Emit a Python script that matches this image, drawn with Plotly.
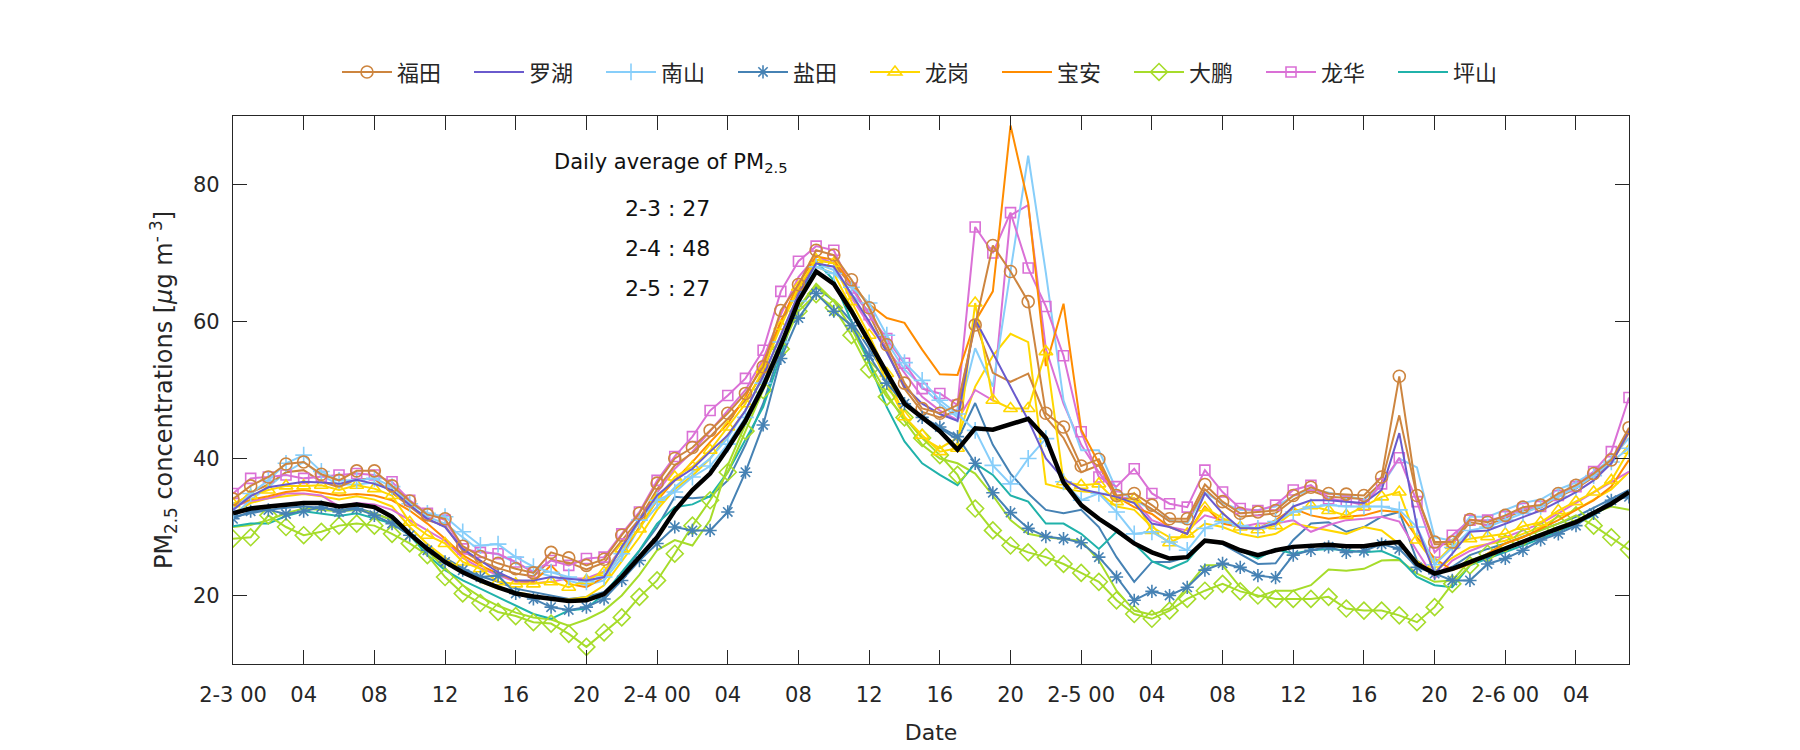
import plotly.graph_objects as go

hours = list(range(80))
tick_vals = list(range(0, 80, 4))
tick_text = ['2-3 00', '04', '08', '12', '16', '20',
             '2-4 00', '04', '08', '12', '16', '20',
             '2-5 00', '04', '08', '12', '16', '20',
             '2-6 00', '04']

futian = [34.1, 36.0, 37.3, 39.2, 39.5, 37.7, 36.8, 38.2, 38.2, 36.0,
          33.8, 31.8, 31.2, 27.2, 25.7, 24.7, 23.9, 23.3, 26.3, 25.5,
          24.4, 25.3, 28.8, 32.0, 36.4, 40.0, 41.6, 44.1, 46.6, 49.5,
          53.4, 61.6, 65.4, 70.4, 69.7, 66.1, 62.0, 56.6, 51.0, 47.3,
          46.6, 47.8, 59.5, 71.1, 67.3, 62.9, 46.6, 44.6, 38.9, 39.9,
          34.6, 34.9, 33.2, 31.2, 31.2, 36.2, 33.7, 32.0, 32.2, 32.4,
          34.6, 35.8, 34.9, 34.8, 34.6, 37.3, 52.0, 34.6, 27.8, 27.8,
          31.1, 30.7, 31.7, 32.9, 33.2, 34.9, 36.1, 37.8, 39.8, 44.5]

luohu = [32.5, 34.5, 35.8, 36.2, 36.6, 36.5, 36.3, 36.9, 36.3, 35.4,
         33.2, 31.2, 30.0, 26.8, 25.1, 23.4, 22.2, 22.2, 22.7, 22.4,
         22.2, 22.7, 27.1, 31.0, 34.6, 36.8, 38.5, 41.0, 43.4, 47.0,
         52.0, 58.0, 64.0, 68.5, 68.0, 64.0, 60.0, 55.5, 50.5, 48.0,
         46.5, 45.5, 60.3, 55.4, 50.5, 45.6, 40.0, 37.0, 35.5, 35.0,
         34.4, 33.5, 30.5, 30.0, 29.0, 34.9, 32.0, 29.8, 29.8, 30.5,
         33.0, 33.9, 33.9, 33.7, 33.5, 35.4, 43.7, 30.0, 23.2, 26.1,
         29.3, 29.5, 30.5, 31.5, 32.4, 33.7, 35.1, 36.8, 39.3, 44.1]

nanshan = [32.4, 34.9, 36.8, 39.3, 40.5, 38.1, 36.8, 36.8, 37.1, 35.9,
           33.4, 32.0, 31.5, 29.3, 27.3, 27.5, 25.6, 24.2, 23.4, 22.7,
           22.0, 22.7, 26.1, 31.0, 33.9, 35.1, 37.3, 38.9, 42.1, 46.0,
           51.0, 57.0, 63.0, 68.0, 67.0, 65.0, 62.7, 58.0, 54.0, 51.4,
           48.5, 46.5, 44.1, 39.0, 36.3, 40.0, 42.9, 36.6, 33.9, 34.9,
           32.2, 29.0, 29.3, 27.8, 26.6, 29.8, 30.8, 30.2, 29.8, 30.8,
           32.2, 32.9, 33.2, 33.0, 33.0, 33.0, 32.5, 30.0, 24.5, 27.0,
           29.5, 30.0, 31.0, 32.0, 33.0, 34.5, 35.8, 37.5, 39.5, 41.5]

yantian = [31.2, 32.3, 32.5, 31.9, 32.3, 32.9, 32.2, 32.7, 31.7, 30.5,
           28.8, 26.6, 24.9, 23.7, 22.7, 22.9, 20.3, 19.5, 18.3, 17.9,
           18.3, 19.5, 22.2, 25.1, 27.6, 30.0, 29.5, 29.5, 32.2, 38.0,
           44.9, 54.6, 60.5, 64.1, 61.5, 59.4, 55.0, 51.0, 48.0, 46.0,
           44.6, 43.2, 39.3, 35.0, 32.1, 29.8, 28.6, 28.3, 27.7, 25.6,
           22.7, 19.3, 20.6, 20.0, 21.2, 23.7, 24.7, 24.1, 22.9, 22.6,
           25.9, 26.6, 27.1, 26.3, 26.5, 27.5, 26.8, 24.1, 23.2, 22.2,
           22.2, 24.6, 25.4, 26.6, 28.1, 29.0, 30.2, 32.0, 33.9, 34.4]

longgang = [33.4, 34.6, 35.4, 36.0, 36.0, 36.1, 35.4, 36.1, 35.6, 34.6,
            30.7, 28.8, 27.6, 24.9, 23.9, 22.0, 21.7, 21.7, 22.0, 21.2,
            22.2, 23.4, 26.8, 29.7, 34.1, 37.3, 38.8, 41.2, 44.6, 48.0,
            53.0, 59.3, 65.0, 69.0, 68.5, 62.9, 58.0, 52.4, 46.1, 43.4,
            41.0, 41.5, 62.7, 48.5, 47.3, 47.3, 55.6, 36.6, 36.1, 36.3,
            33.7, 34.1, 29.5, 27.7, 29.0, 32.8, 31.3, 30.0, 29.6, 30.2,
            32.2, 33.1, 32.4, 31.7, 33.0, 34.4, 35.1, 28.1, 24.6, 27.3,
            28.3, 28.6, 29.0, 30.1, 30.7, 32.4, 33.7, 35.1, 36.8, 41.2]

baoan = [33.0, 34.0, 34.5, 35.1, 35.4, 35.0, 34.6, 34.8, 34.6, 33.9,
         32.4, 30.5, 28.3, 25.9, 24.4, 23.2, 22.2, 22.0, 24.4, 21.7,
         21.2, 22.7, 26.1, 30.0, 33.9, 36.8, 39.5, 42.4, 45.1, 49.0,
         54.0, 60.0, 65.5, 69.5, 69.0, 65.5, 62.5, 60.5, 59.8, 55.9,
         52.3, 52.2, 60.0, 64.4, 88.6, 77.3, 53.5, 62.6, 44.2, 39.3,
         34.4, 32.9, 31.9, 30.0, 29.0, 33.0, 30.5, 30.0, 29.8, 31.0,
         32.7, 31.7, 31.2, 31.5, 31.7, 32.4, 32.2, 28.5, 25.4, 23.7,
         24.6, 26.1, 27.6, 28.5, 29.8, 31.0, 32.5, 33.9, 35.9, 39.8]

dapeng = [28.3, 28.5, 31.7, 30.0, 28.8, 29.3, 30.2, 30.5, 30.2, 29.0,
          27.6, 25.9, 22.7, 20.3, 18.9, 17.6, 17.0, 16.1, 15.9, 14.4,
          12.5, 14.6, 16.8, 19.8, 22.2, 26.1, 30.2, 33.9, 38.0, 44.0,
          50.0, 56.0, 61.5, 64.0, 62.0, 58.0, 53.0, 49.0, 46.0, 43.0,
          40.5, 37.6, 32.7, 29.5, 27.3, 26.3, 25.6, 24.6, 23.3, 22.0,
          19.3, 17.3, 16.6, 17.8, 19.5, 20.7, 21.7, 20.6, 20.0, 19.5,
          19.5, 19.5, 19.8, 18.1, 17.8, 17.8, 17.1, 16.1, 18.3, 21.7,
          24.4, 26.1, 27.6, 28.5, 29.5, 30.5, 31.7, 30.2, 28.5, 26.7]

longhua = [34.9, 37.1, 37.3, 37.6, 37.1, 37.4, 37.6, 37.8, 37.6, 36.6,
           33.9, 32.0, 31.0, 26.8, 26.3, 26.1, 24.9, 23.4, 25.1, 24.4,
           25.4, 25.6, 29.0, 32.2, 36.8, 40.3, 43.2, 47.0, 49.2, 51.7,
           55.8, 64.4, 68.8, 71.0, 70.4, 64.9, 61.0, 57.5, 53.9, 50.2,
           49.5, 47.8, 73.8, 70.0, 75.9, 67.8, 62.2, 55.0, 43.9, 37.3,
           35.9, 38.5, 34.9, 33.4, 32.9, 38.3, 35.1, 32.7, 32.4, 33.2,
           35.4, 36.1, 34.1, 33.8, 33.2, 36.3, 40.1, 33.7, 26.3, 28.8,
           31.0, 31.0, 31.5, 32.7, 33.0, 34.6, 35.9, 38.1, 41.0, 48.9]

pingshan = [30.1, 30.5, 30.5, 31.6, 32.3, 32.0, 31.6, 32.0, 31.2, 30.5,
            28.8, 25.9, 23.7, 22.2, 21.0, 19.8, 18.5, 17.3, 16.6, 17.8,
            18.1, 20.2, 23.4, 26.6, 30.5, 32.9, 33.3, 34.5, 38.0, 42.7,
            47.5, 55.0, 63.0, 68.8, 66.0, 60.0, 54.0, 47.5, 42.5, 39.3,
            37.6, 36.1, 39.3, 37.6, 34.6, 33.7, 30.5, 30.5, 29.0, 26.8,
            29.3, 27.6, 25.0, 23.9, 25.0, 28.1, 27.6, 26.6, 25.4, 26.8,
            26.1, 26.6, 26.8, 26.6, 26.3, 26.5, 25.4, 22.7, 21.5, 21.2,
            24.4, 25.4, 26.3, 27.3, 28.3, 29.3, 30.5, 31.7, 33.4, 34.9]

city_average = [32.0, 32.7, 33.0, 33.3, 33.5, 33.5, 33.0, 33.3, 32.9, 31.5,
                29.0, 26.8, 24.9, 23.4, 22.2, 21.2, 20.3, 19.85, 19.5, 19.2,
                19.3, 20.2, 22.7, 25.6, 28.5, 32.4, 35.4, 37.8, 41.5, 45.5,
                50.5, 56.5, 63.0, 67.3, 65.5, 61.5, 57.0, 52.5, 48.0, 46.0,
                44.0, 41.3, 44.4, 44.2, 45.0, 45.8, 43.0, 36.5, 33.2, 31.2,
                29.5, 27.6, 26.3, 25.4, 25.6, 28.0, 27.7, 26.6, 25.9, 26.6,
                27.1, 27.3, 27.4, 27.2, 27.2, 27.6, 27.8, 24.6, 23.2, 23.9,
                24.9, 25.9, 26.8, 27.8, 28.8, 29.8, 30.7, 32.0, 33.4, 35.1]

futian_b = [33.0, 35.0, 36.2, 38.0, 38.3, 36.6, 35.8, 37.0, 37.0, 35.0,
            33.0, 31.0, 30.2, 26.5, 25.0, 24.0, 23.2, 22.8, 25.2, 24.8,
            23.8, 24.8, 28.0, 31.2, 35.5, 39.0, 40.8, 43.2, 45.8, 48.5,
            52.5, 60.0, 64.5, 69.0, 68.5, 65.2, 61.0, 55.8, 50.2, 46.8,
            46.0, 47.0, 60.0, 52.5, 51.2, 52.4, 46.0, 43.0, 38.0, 39.0,
            34.0, 34.2, 32.6, 30.8, 30.8, 35.5, 33.2, 31.5, 31.7, 32.0,
            34.0, 35.3, 34.4, 34.3, 34.1, 36.5, 46.3, 34.5, 27.5, 27.5,
            30.7, 30.3, 31.3, 32.4, 32.8, 34.4, 35.6, 37.3, 39.3, 43.8]

nanshan_b = [31.5, 34.0, 35.8, 38.0, 39.5, 37.5, 36.2, 36.2, 36.5, 35.2,
             33.0, 31.5, 30.5, 28.5, 26.5, 26.0, 24.8, 23.5, 22.8, 22.2,
             21.5, 22.2, 25.5, 30.0, 33.0, 35.8, 38.0, 40.0, 43.0, 47.0,
             52.0, 58.0, 63.5, 68.5, 67.5, 64.0, 61.5, 57.0, 53.0, 50.5,
             48.0, 46.0, 56.1, 50.5, 67.0, 84.2, 67.1, 48.5, 41.2, 41.2,
             35.4, 34.0, 32.5, 31.0, 30.5, 35.0, 33.5, 32.5, 32.5, 33.0,
             34.5, 35.5, 35.0, 34.5, 34.0, 36.0, 40.0, 38.7, 28.5, 28.0,
             31.5, 31.5, 32.5, 33.5, 34.0, 35.5, 36.5, 38.0, 40.0, 43.0]

yantian_b = [31.5, 32.0, 32.5, 32.8, 33.0, 32.8, 32.5, 32.8, 32.0, 31.0,
             29.0, 27.0, 25.5, 24.0, 22.8, 22.0, 21.0, 20.5, 20.0, 19.5,
             19.8, 20.5, 23.0, 26.5, 30.0, 34.4, 34.2, 34.4, 36.8, 42.0,
             48.0, 56.0, 62.0, 65.0, 63.0, 60.0, 56.0, 52.0, 48.5, 46.0,
             44.5, 42.7, 48.1, 42.0, 37.8, 34.9, 32.5, 32.0, 32.5, 30.0,
             25.6, 22.0, 24.9, 24.9, 25.6, 28.1, 27.5, 26.1, 24.6, 24.7,
             28.1, 30.5, 30.7, 29.3, 30.0, 31.5, 32.2, 25.1, 23.2, 24.2,
             25.9, 26.8, 27.6, 28.6, 29.5, 30.5, 31.5, 32.8, 34.0, 35.4]

longgang_b = [32.0, 33.5, 34.2, 34.5, 34.8, 34.5, 34.0, 34.5, 34.0, 33.0,
              30.0, 27.5, 25.5, 23.5, 22.0, 21.0, 20.5, 20.0, 19.5, 19.4,
              19.8, 21.5, 25.0, 28.5, 32.5, 35.5, 37.5, 40.0, 43.5, 47.0,
              52.0, 58.0, 64.0, 68.0, 67.0, 62.0, 57.0, 51.0, 46.0, 43.0,
              41.5, 43.0, 50.5, 55.0, 58.2, 57.0, 36.3, 35.6, 35.2, 35.0,
              33.0, 32.5, 30.0, 28.5, 28.5, 30.5, 30.0, 29.0, 28.5, 29.0,
              30.5, 30.0, 29.5, 29.0, 30.0, 29.5, 27.5, 25.0, 23.5, 25.5,
              27.0, 27.5, 28.0, 29.0, 30.0, 31.5, 32.5, 34.0, 35.5, 38.0]

dapeng_b = [30.0, 30.3, 31.0, 32.0, 32.7, 32.5, 32.3, 32.5, 32.0, 31.0,
            29.0, 26.5, 24.0, 21.5, 19.8, 18.5, 17.5, 16.8, 16.5, 15.6,
            16.5, 17.8, 20.0, 23.0, 26.6, 28.1, 27.3, 31.0, 39.0, 45.0,
            51.0, 57.0, 62.0, 65.5, 63.0, 59.0, 54.0, 49.5, 45.5, 42.0,
            40.0, 39.3, 37.8, 34.6, 31.0, 29.0, 28.5, 28.3, 28.0, 25.1,
            20.7, 17.8, 17.2, 18.1, 21.2, 24.4, 24.4, 21.2, 19.8, 20.7,
            20.7, 21.5, 23.8, 23.6, 23.9, 25.1, 25.2, 23.2, 22.0, 22.2,
            25.1, 26.0, 27.0, 28.0, 29.0, 30.0, 31.0, 32.0, 33.0, 32.5]

longhua_b = [33.0, 33.8, 34.2, 34.9, 34.9, 34.6, 33.0, 33.5, 33.3, 32.5,
             31.0, 29.5, 28.0, 25.5, 24.0, 23.0, 22.0, 21.8, 22.0, 22.5,
             22.5, 23.5, 27.0, 31.0, 35.0, 38.5, 41.0, 44.0, 47.0, 50.0,
             54.5, 61.0, 66.5, 69.5, 68.5, 63.5, 59.5, 56.0, 52.5, 49.0,
             47.0, 45.6, 50.0, 48.5, 75.5, 77.0, 56.0, 48.0, 42.0, 38.0,
             34.5, 34.0, 31.0, 30.0, 29.5, 31.7, 31.0, 30.0, 30.5, 30.5,
             31.0, 29.3, 30.3, 31.0, 31.2, 31.5, 30.8, 26.5, 22.5, 25.1,
             26.5, 27.5, 28.5, 29.5, 30.5, 32.0, 33.5, 35.0, 36.5, 38.1]

C_FT = '#CD853F'
C_LHU = '#6A5ACD'
C_NS = '#87CEFA'
C_YT = '#4682B4'
C_LG = '#FFD700'
C_BA = '#FF8C00'
C_DP = '#A6DC2A'
C_LH = '#DA70D6'
C_PS = '#20B2AA'

fig = go.Figure()

extras = [(yantian_b, C_YT), (dapeng_b, C_DP), (longgang_b, C_LG),
          (longhua_b, C_LH), (nanshan_b, C_NS), (futian_b, C_FT)]
for ys, c in extras:
    fig.add_trace(go.Scatter(x=hours, y=ys, mode='lines', showlegend=False,
                             line=dict(color=c, width=2), hoverinfo='skip'))

main = [
    ('坪山', pingshan, C_PS, None, 9),
    ('龙华', longhua, C_LH, 'square-open', 8),
    ('大鹏', dapeng, C_DP, 'diamond-open', 7),
    ('宝安', baoan, C_BA, None, 6),
    ('龙岗', longgang, C_LG, 'triangle-up-open', 5),
    ('盐田', yantian, C_YT, 'asterisk-open', 4),
    ('南山', nanshan, C_NS, 'cross-thin-open', 3),
    ('罗湖', luohu, C_LHU, None, 2),
    ('福田', futian, C_FT, 'circle-open', 1),
]
sizes = {'square-open': 10, 'diamond-open': 13, 'triangle-up-open': 12,
         'asterisk-open': 11, 'cross-thin-open': 12, 'circle-open': 12}
for name, ys, c, sym, rank in main:
    if sym:
        fig.add_trace(go.Scatter(x=hours, y=ys, mode='lines+markers', name=name,
                                 legendrank=rank,
                                 line=dict(color=c, width=2),
                                 marker=dict(symbol=sym, size=sizes[sym], color=c,
                                             line=dict(color=c, width=1.6))))
    else:
        fig.add_trace(go.Scatter(x=hours, y=ys, mode='lines', name=name,
                                 legendrank=rank, line=dict(color=c, width=2)))

fig.add_trace(go.Scatter(x=hours, y=city_average, mode='lines', showlegend=False,
                         line=dict(color='black', width=4.5)))

axis_common = dict(showline=True, linecolor='#262626', linewidth=1.3, mirror='ticks',
                   ticks='inside', ticklen=14, tickwidth=1.3, tickcolor='#262626',
                   showgrid=False, zeroline=False, automargin=False,
                   tickfont=dict(family='DejaVu Sans', size=21, color='#262626'))

fig.update_xaxes(range=[0, 79], tickvals=tick_vals, ticktext=tick_text,
                 ticklabelstandoff=12,
                 title=dict(text='Date', font=dict(family='DejaVu Sans', size=22, color='#262626'),
                            standoff=18),
                 **axis_common)
fig.update_yaxes(range=[10, 90], tickvals=[20, 40, 60, 80], ticklabelstandoff=8,
                 title=dict(text='PM<sub>2.5</sub> concentrations [<i>μ</i>g m<sup>- 3</sup>]',
                            font=dict(family='DejaVu Sans', size=24, color='#262626'),
                            standoff=13),
                 **axis_common)

fig.add_annotation(xref='paper', yref='paper', x=0.2285, y=0.914, xanchor='left', yanchor='middle',
                   text='Daily average of PM<sub>2.5</sub>', showarrow=False,
                   font=dict(family='DejaVu Sans', size=21, color='#111111'))
for txt, yy in [('2-3 : 27', 0.832), ('2-4 : 48', 0.759), ('2-5 : 27', 0.686)]:
    fig.add_annotation(xref='paper', yref='paper', x=0.2794, y=yy, xanchor='left', yanchor='middle',
                       text=txt, showarrow=False,
                       font=dict(family='DejaVu Sans', size=22, color='#111111'))

fig.update_layout(
    width=1800, height=750,
    margin=dict(l=233, r=171, t=116, b=86),
    paper_bgcolor='white', plot_bgcolor='white',
    legend=dict(orientation='h', x=0.5, xanchor='center', y=1.08, yanchor='middle',
                font=dict(family='Noto Sans CJK SC', size=22, color='#262626'),
                itemwidth=50, entrywidth=67, traceorder='normal',
                bgcolor='rgba(0,0,0,0)'),
)

fig.write_html('out.html', config={'displayModeBar': False},
               post_script="document.body.style.margin='0px';")
